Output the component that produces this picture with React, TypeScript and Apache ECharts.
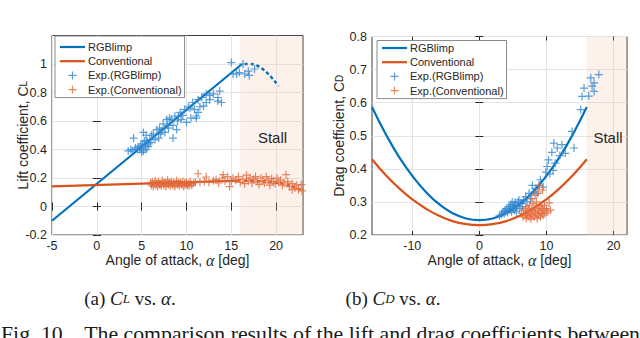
import React, { useEffect, useRef } from 'react';
import * as echarts from 'echarts';

// ---------- data ----------
const clTicksX = [-5, 0, 5, 10, 15, 20];
const clTicksY = [-0.2, 0, 0.2, 0.4, 0.6, 0.8, 1];
const cdTicksX = [-10, 0, 10, 20];
const cdTicksY = [0.2, 0.3, 0.4, 0.5, 0.6, 0.7, 0.8];

const stallStart = 16;

const clModelRgb = [[-5, -0.1], [16.2, 1.0]];
const clStallRgb = [[16.5, 1.0], [17, 1.0], [17.5, 0.998], [18, 0.985], [18.5, 0.965], [19, 0.938], [19.5, 0.905], [20, 0.868], [20.3, 0.845]];
const clModelConv = [[-5, 0.141], [16, 0.181]];
const clStallConv = [[16.5, 0.18], [18, 0.177], [19.5, 0.17], [21, 0.156], [22, 0.136], [23, 0.108]];

const clExpRgb = [
  [3.5, 0.39], [3.8, 0.4], [4.0, 0.39], [4.1, 0.48], [4.3, 0.41], [4.5, 0.4], [4.6, 0.42], [4.8, 0.4], [4.9, 0.43], [5.0, 0.41],
  [5.0, 0.38], [5.1, 0.44], [5.2, 0.52], [5.2, 0.39], [5.3, 0.46], [5.4, 0.43], [5.5, 0.4], [5.5, 0.5], [5.6, 0.46], [5.7, 0.42],
  [5.8, 0.44], [5.9, 0.47], [6.0, 0.45], [6.1, 0.5], [6.3, 0.51], [6.5, 0.47], [6.7, 0.54], [6.9, 0.48], [7.0, 0.55], [7.1, 0.51],
  [7.2, 0.53], [7.4, 0.58], [7.6, 0.52], [7.8, 0.61], [7.9, 0.57], [8.0, 0.55], [8.1, 0.62], [8.3, 0.61], [8.5, 0.48], [8.5, 0.57],
  [8.7, 0.635], [8.9, 0.54], [9.0, 0.6], [9.1, 0.63], [9.3, 0.66], [9.4, 0.61], [9.6, 0.64], [9.8, 0.68], [10.0, 0.59], [10.2, 0.7],
  [10.4, 0.69], [10.5, 0.62], [10.7, 0.73], [10.9, 0.68], [11.1, 0.635], [11.1, 0.62], [11.3, 0.75], [11.3, 0.66], [11.5, 0.7], [11.7, 0.765],
  [11.9, 0.705], [12.2, 0.79], [12.2, 0.73], [12.6, 0.75], [12.6, 0.78], [13.0, 0.79], [13.5, 0.74], [13.5, 0.765], [13.7, 0.81], [13.9, 0.73],
  [15.0, 1.01], [15.2, 0.93], [15.6, 0.93], [15.9, 0.94], [16.3, 1.0], [16.5, 0.93], [16.9, 0.95], [17.0, 0.92], [17.6, 0.965]
];

const clExpConv = [
  [6.0, 0.165], [6.1, 0.15], [6.2, 0.17], [6.3, 0.14], [6.4, 0.16], [6.5, 0.18], [6.6, 0.15], [6.7, 0.165], [6.8, 0.14], [6.9, 0.175],
  [7.0, 0.155], [7.1, 0.16], [7.2, 0.145], [7.3, 0.18], [7.4, 0.165], [7.5, 0.15], [7.6, 0.17], [7.7, 0.14], [7.8, 0.16], [7.9, 0.185],
  [8.0, 0.155], [8.1, 0.165], [8.2, 0.145], [8.3, 0.175], [8.4, 0.16], [8.5, 0.15], [8.6, 0.17], [8.7, 0.14], [8.8, 0.16], [8.9, 0.18],
  [9.0, 0.155], [9.1, 0.165], [9.2, 0.145], [9.3, 0.17], [9.4, 0.16], [9.5, 0.15], [9.6, 0.175], [9.7, 0.14], [9.8, 0.165], [9.9, 0.155],
  [10.0, 0.17], [10.1, 0.15], [10.2, 0.16], [10.3, 0.145], [10.4, 0.175], [10.5, 0.16], [10.6, 0.15], [10.8, 0.165], [11.0, 0.17], [11.3, 0.23],
  [11.5, 0.17], [12.0, 0.175], [12.2, 0.207], [12.5, 0.17], [13.0, 0.18], [13.3, 0.19], [13.6, 0.165], [14.0, 0.2], [14.1, 0.223], [14.3, 0.18],
  [14.6, 0.21], [14.8, 0.14], [15.0, 0.175], [15.2, 0.2], [15.5, 0.185], [15.8, 0.21], [16.0, 0.17], [16.3, 0.19], [16.5, 0.16], [16.7, 0.22],
  [16.9, 0.18], [17.1, 0.2], [17.3, 0.165], [17.5, 0.19], [17.7, 0.21], [17.9, 0.175], [18.1, 0.155], [18.3, 0.2], [18.5, 0.18], [18.7, 0.165],
  [18.9, 0.21], [19.1, 0.185], [19.3, 0.15], [19.5, 0.195], [19.7, 0.175], [19.9, 0.16], [20.1, 0.2], [20.3, 0.17], [20.5, 0.185], [20.7, 0.15],
  [20.9, 0.165], [21.1, 0.223], [21.3, 0.175], [21.5, 0.14], [21.8, 0.118], [21.8, 0.16], [22.1, 0.13], [22.3, 0.15], [22.5, 0.12], [22.8, 0.153], [22.9, 0.11]
];

const cdAlpha = [-16, -14, -12, -10, -8, -6, -4, -2, 0, 2, 4, 6, 8, 10, 12, 14, 16];
const cdModelRgb = [0.587, 0.507, 0.437, 0.379, 0.331, 0.293, 0.266, 0.25, 0.245, 0.25, 0.266, 0.293, 0.331, 0.379, 0.437, 0.507, 0.587];
const cdModelConv = [0.429, 0.382, 0.342, 0.308, 0.28, 0.258, 0.242, 0.233, 0.23, 0.233, 0.242, 0.258, 0.28, 0.308, 0.342, 0.382, 0.429];

const cdExpRgb = [
  [3.0, 0.258], [3.3, 0.262], [3.5, 0.27], [3.7, 0.265], [3.8, 0.275], [3.9, 0.27], [4.1, 0.28], [4.2, 0.268], [4.4, 0.285], [4.5, 0.275],
  [4.6, 0.286], [4.7, 0.292], [4.8, 0.27], [4.9, 0.3], [5.0, 0.28], [5.1, 0.29], [5.2, 0.275], [5.3, 0.298], [5.4, 0.285], [5.5, 0.27],
  [5.6, 0.29], [5.8, 0.3], [5.9, 0.306], [6.0, 0.28], [6.2, 0.295], [6.4, 0.286], [6.6, 0.305], [6.9, 0.316], [7.1, 0.3], [7.4, 0.326],
  [7.6, 0.31], [7.9, 0.35], [8.1, 0.33], [8.4, 0.34], [8.6, 0.325], [8.9, 0.35], [9.1, 0.367], [9.5, 0.345], [9.9, 0.39], [10.1, 0.407],
  [10.3, 0.427], [10.5, 0.385], [10.8, 0.45], [11.0, 0.395], [11.1, 0.478], [11.3, 0.417], [11.6, 0.463], [12.0, 0.44], [12.3, 0.473], [12.8, 0.447],
  [13.8, 0.513], [14.1, 0.463], [15.1, 0.579], [15.3, 0.619], [15.6, 0.644], [16.3, 0.62], [16.6, 0.675], [16.8, 0.65], [17.1, 0.66], [17.1, 0.634], [17.8, 0.685]
];

const cdExpConv = [
  [6.3, 0.265], [6.5, 0.255], [6.6, 0.275], [6.8, 0.26], [6.9, 0.285], [7.0, 0.25], [7.1, 0.27], [7.2, 0.26], [7.3, 0.28], [7.4, 0.255],
  [7.5, 0.29], [7.6, 0.265], [7.7, 0.248], [7.8, 0.275], [7.9, 0.26], [8.0, 0.295], [8.1, 0.27], [8.2, 0.255], [8.3, 0.28], [8.4, 0.265],
  [8.5, 0.3], [8.6, 0.25], [8.7, 0.275], [8.8, 0.26], [8.9, 0.35], [8.9, 0.285], [9.0, 0.27], [9.1, 0.255], [9.2, 0.29], [9.3, 0.265],
  [9.4, 0.336], [9.4, 0.28], [9.5, 0.26], [9.6, 0.275], [9.7, 0.29], [9.8, 0.265], [10.0, 0.28], [10.2, 0.27], [10.4, 0.297], [10.6, 0.275],
  [7.8, 0.31], [8.3, 0.32], [8.8, 0.33]
];

const legendLabels = ['RGBlimp', 'Conventional', 'Exp.(RGBlimp)', 'Exp.(Conventional)'];

// ---------- styles ----------
const FONT = '"Liberation Sans", Arial, Helvetica, sans-serif';
const SERIF = '"Liberation Serif", "Times New Roman", serif';
const BLUE = '#0072BD';
const ORANGE = '#D95319';
const BLUE_M = '#2f86d0';
const ORANGE_M = '#e2683a';
const TXT = '#262626';
const PLUS = 'path://M3.4,0H4.6V3.4H8V4.6H4.6V8H3.4V4.6H0V3.4H3.4Z';
const LINE_ICON = 'path://M0,0H25V2.2H0Z';

const fmt = (v: number) => String(Number(v.toFixed(2)));

function axis(gridIndex: number, min: number, max: number, ticks: number[], position: string, main: boolean, extra: any = {}) {
  return {
    type: 'value', gridIndex, min, max, position,
    axisLine: { show: false },
    axisTick: { show: true, inside: true, length: 4, customValues: ticks, lineStyle: { color: TXT, width: 1 } },
    axisLabel: main
      ? { show: true, customValues: ticks, margin: 5, color: TXT, fontSize: 12.5, lineHeight: 12, fontFamily: FONT, formatter: fmt }
      : { show: false },
    splitLine: main ? { show: true, lineStyle: { color: '#e4e4e4', width: 1 } } : { show: false },
    nameMoveOverlap: false,
    ...extra,
  };
}

const nameRich = {
  a: { fontSize: 14, fontFamily: FONT, color: TXT, lineHeight: 14 },
  s: { fontSize: 10, fontFamily: FONT, color: TXT, lineHeight: 9 },
  g: { fontSize: 16, fontFamily: SERIF, fontStyle: 'italic', color: TXT, lineHeight: 14 },
};

const capRich = {
  n: { fontFamily: SERIF, fontSize: 19, fill: '#1a1a1a', color: '#1a1a1a' },
  i: { fontFamily: SERIF, fontSize: 19, fontStyle: 'italic', fill: '#1a1a1a', color: '#1a1a1a' },
  s: { fontFamily: SERIF, fontSize: 13, fontStyle: 'italic', fill: '#1a1a1a', color: '#1a1a1a', lineHeight: 8 },
};

function legendOpt(left: number, top: number, padTop: number) {
  return {
    data: [
      { name: legendLabels[0], icon: LINE_ICON },
      { name: legendLabels[1], icon: LINE_ICON },
      { name: legendLabels[2], icon: PLUS },
      { name: legendLabels[3], icon: PLUS },
    ],
    orient: 'vertical', left, top,
    padding: [padTop, 3, 2, 5], itemWidth: 25, itemHeight: 8, itemGap: 2.2,
    backgroundColor: '#ffffff', borderColor: '#8a8a8a', borderWidth: 1, borderRadius: 0,
    selectedMode: false, z: 20,
    textStyle: { fontSize: 11, fontFamily: FONT, color: TXT, lineHeight: 12, padding: [0, 0, 0, -2] },
  };
}

export default function App() {
  const ref = useRef<HTMLDivElement>(null);
  useEffect(() => {
    if (!ref.current) return;
    const chart = echarts.init(ref.current, undefined, { renderer: 'svg' });
    const option: any = {
      animation: false,
      backgroundColor: '#fff',
      legend: [legendOpt(55, 36, 5), legendOpt(377, 40.5, 1.5)],
      grid: [
        { left: 52, top: 35.5, width: 251, height: 199.5, show: true, borderColor: '#3a3a3a', borderWidth: 1, backgroundColor: 'transparent' },
        { left: 372, top: 36.5, width: 255, height: 198.5, show: true, borderColor: '#3a3a3a', borderWidth: 1, backgroundColor: 'transparent' },
      ],
      xAxis: [
        axis(0, -5, 23, clTicksX, 'bottom', true, {
          name: '{a|Angle of attack, }{g|α}{a| [deg]}', nameLocation: 'middle', nameGap: 18,
          nameTextStyle: { rich: nameRich },
        }),
        axis(0, -5, 23, clTicksX, 'top', false),
        axis(1, -16, 22, cdTicksX, 'bottom', true, {
          name: '{a|Angle of attack, }{g|α}{a| [deg]}', nameLocation: 'middle', nameGap: 18,
          nameTextStyle: { rich: nameRich },
        }),
        axis(1, -16, 22, cdTicksX, 'top', false),
      ],
      yAxis: [
        axis(0, -0.2, 1.2, clTicksY, 'left', true, {
          name: '{a|Lift coefficient, C}{s|L}', nameLocation: 'middle', nameGap: 22,
          nameTextStyle: { rich: nameRich },
        }),
        axis(0, -0.2, 1.2, clTicksY, 'right', false),
        axis(1, 0.2, 0.8, cdTicksY, 'left', true, {
          name: '{a|Drag coefficient, C}{s|D}', nameLocation: 'middle', nameGap: 26,
          nameTextStyle: { rich: nameRich },
        }),
        axis(1, 0.2, 0.8, cdTicksY, 'right', false),
      ],
      series: [
        {
          name: 'RGBlimp', type: 'line', xAxisIndex: 0, yAxisIndex: 0, data: clModelRgb, symbol: 'none', z: 3,
          lineStyle: { color: BLUE, width: 2.2 }, itemStyle: { color: BLUE },
          markArea: { silent: true, itemStyle: { color: 'rgba(246, 190, 165, 0.22)' }, data: [[{ xAxis: stallStart }, { xAxis: 23 }]] },
        },
        { name: 'RGBlimp stall', type: 'line', xAxisIndex: 0, yAxisIndex: 0, data: clStallRgb, symbol: 'none', smooth: true, z: 3, lineStyle: { color: BLUE, width: 2.4, type: [3, 3] } },
        { name: 'Conventional', type: 'line', xAxisIndex: 0, yAxisIndex: 0, data: clModelConv, symbol: 'none', z: 3, lineStyle: { color: ORANGE, width: 2.2 }, itemStyle: { color: ORANGE } },
        { name: 'Conventional stall', type: 'line', xAxisIndex: 0, yAxisIndex: 0, data: clStallConv, symbol: 'none', smooth: true, z: 3, lineStyle: { color: ORANGE, width: 2.4, type: [3, 3] } },
        { name: 'Exp.(RGBlimp)', type: 'scatter', xAxisIndex: 0, yAxisIndex: 0, data: clExpRgb, symbol: PLUS, symbolSize: 8, z: 4, itemStyle: { color: BLUE_M } },
        { name: 'Exp.(Conventional)', type: 'scatter', xAxisIndex: 0, yAxisIndex: 0, data: clExpConv, symbol: PLUS, symbolSize: 8, z: 4, itemStyle: { color: ORANGE_M } },
        {
          name: 'RGBlimp', type: 'line', xAxisIndex: 2, yAxisIndex: 2, data: cdAlpha.map((a, i) => [a, cdModelRgb[i]]), symbol: 'none', smooth: true, z: 3,
          lineStyle: { color: BLUE, width: 2.2 }, itemStyle: { color: BLUE },
          markArea: { silent: true, itemStyle: { color: 'rgba(246, 190, 165, 0.22)' }, data: [[{ xAxis: stallStart }, { xAxis: 22 }]] },
        },
        { name: 'Conventional', type: 'line', xAxisIndex: 2, yAxisIndex: 2, data: cdAlpha.map((a, i) => [a, cdModelConv[i]]), symbol: 'none', smooth: true, z: 3, lineStyle: { color: ORANGE, width: 2.2 }, itemStyle: { color: ORANGE } },
        { name: 'Exp.(RGBlimp)', type: 'scatter', xAxisIndex: 2, yAxisIndex: 2, data: cdExpRgb, symbol: PLUS, symbolSize: 8, z: 4, itemStyle: { color: BLUE_M } },
        { name: 'Exp.(Conventional)', type: 'scatter', xAxisIndex: 2, yAxisIndex: 2, data: cdExpConv, symbol: PLUS, symbolSize: 8, z: 4, itemStyle: { color: ORANGE_M } },
      ],
      graphic: [
        { type: 'text', x: 272.5, y: 137, z: 100, style: { text: 'Stall', fontSize: 15, fontFamily: FONT, fill: TXT, align: 'center', verticalAlign: 'middle' } },
        { type: 'text', x: 608, y: 137, z: 100, style: { text: 'Stall', fontSize: 15, fontFamily: FONT, fill: TXT, align: 'center', verticalAlign: 'middle' } },
        {
          type: 'text', x: 130, y: 298, z: 100,
          style: { text: '{n|(a) }{i|C}{s|L}{n| vs. }{i|α}{n|.}', align: 'center', verticalAlign: 'middle', rich: capRich },
        },
        {
          type: 'text', x: 393, y: 298, z: 100,
          style: { text: '{n|(b) }{i|C}{s|D}{n| vs. }{i|α}{n|.}', align: 'center', verticalAlign: 'middle', rich: capRich },
        },
        {
          type: 'text', x: 1, y: 334, z: 100,
          style: { text: 'Fig. 10.   The comparison results of the lift and drag coefficients between', fontSize: 21.8, fontFamily: SERIF, fill: '#1a1a1a', verticalAlign: 'middle', align: 'left' },
        },
      ],
    };
    chart.setOption(option);
    return () => chart.dispose();
  }, []);
  return <div ref={ref} style={{ position: 'fixed', left: 0, top: 0, width: 640, height: 338, background: '#fff' }} />;
}
